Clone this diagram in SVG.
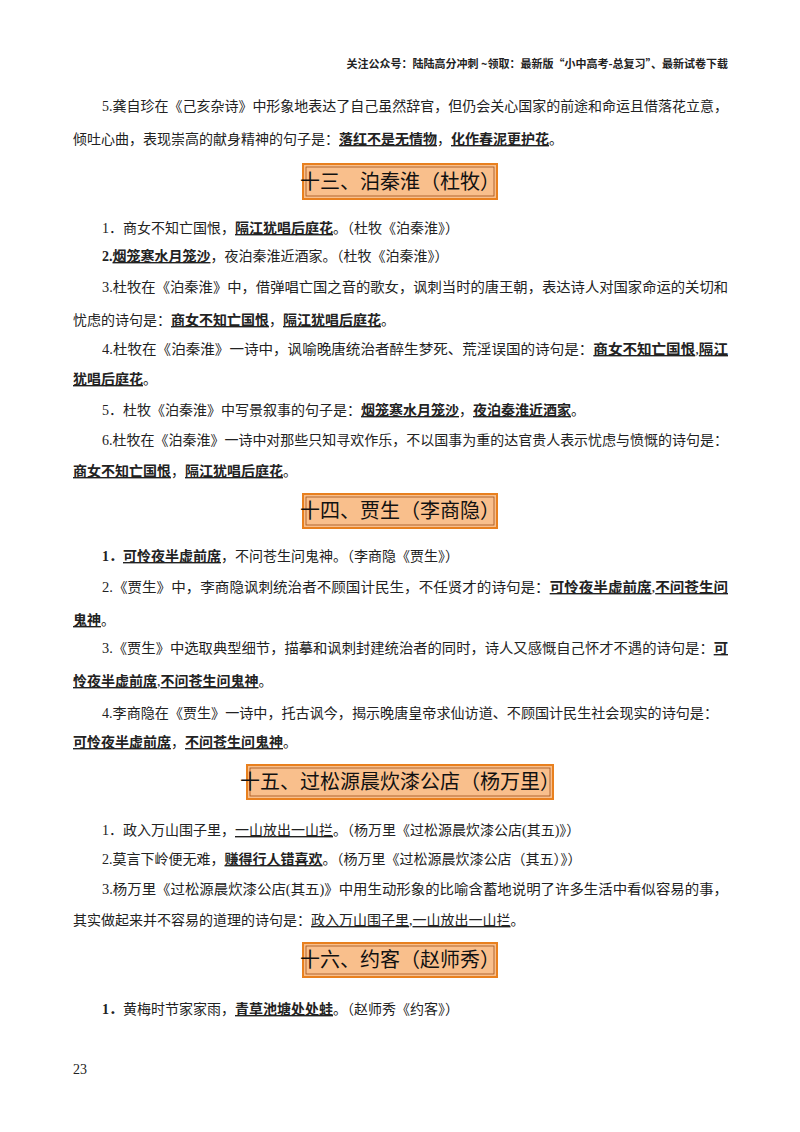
<svg xmlns="http://www.w3.org/2000/svg" width="800" height="1132" viewBox="0 0 800 1132">
<style>
text{font-family:"Liberation Serif","Noto Sans CJK SC",serif;font-size:14px;fill:#222}
.b{font-weight:bold;text-decoration:underline}
.u{text-decoration:underline}
.hd{font-family:"Noto Sans CJK SC",sans-serif;font-size:20px;fill:#111}
.hb{fill:#f9bf8c;stroke:#e8801f;stroke-width:2}
.hi{fill:none;stroke:#a0521a;stroke-width:0.8}
.top{font-family:"Noto Sans CJK SC",sans-serif;font-size:11px;font-weight:bold}
</style>
<rect width="800" height="1132" fill="#fff"/>
<text class="top" x="728" y="68" text-anchor="end">关注公众号：陆陆高分冲刺 ~领取：最新版“小中高考-总复习”、最新试卷下载</text>

<text x="102" y="111" textLength="626" lengthAdjust="spacingAndGlyphs">5.龚自珍在《己亥杂诗》中形象地表达了自己虽然辞官，但仍会关心国家的前途和命运且借落花立意，</text>
<text x="73" y="144">倾吐心曲，表现崇高的献身精神的句子是：<tspan class="b">落红不是无情物</tspan>，<tspan class="b">化作春泥更护花</tspan>。</text>

<g id="h13"><rect class="hb" x="303" y="164" width="194" height="35"/><rect class="hi" x="306" y="167" width="188" height="29"/><text class="hd" x="400" y="189" text-anchor="middle">十三、泊秦淮（杜牧）</text></g>

<text x="102" y="233">1．商女不知亡国恨，<tspan class="b">隔江犹唱后庭花</tspan>。（杜牧《泊秦淮》）</text>
<text x="102" y="261"><tspan font-weight="bold">2.</tspan><tspan class="b">烟笼寒水月笼沙</tspan>，夜泊秦淮近酒家。（杜牧《泊秦淮》）</text>
<text x="102" y="292" textLength="626" lengthAdjust="spacingAndGlyphs">3.杜牧在《泊秦淮》中，借弹唱亡国之音的歌女，讽刺当时的唐王朝，表达诗人对国家命运的关切和</text>
<text x="73" y="325">忧虑的诗句是：<tspan class="b">商女不知亡国恨</tspan>，<tspan class="b">隔江犹唱后庭花</tspan>。</text>
<text x="102" y="354" textLength="626" lengthAdjust="spacingAndGlyphs">4.杜牧在《泊秦淮》一诗中，讽喻晚唐统治者醉生梦死、荒淫误国的诗句是：<tspan class="b">商女不知亡国恨</tspan>,<tspan class="b">隔江</tspan></text>
<text x="73" y="384"><tspan class="b">犹唱后庭花</tspan>。</text>
<text x="102" y="415">5．杜牧《泊秦淮》中写景叙事的句子是：<tspan class="b">烟笼寒水月笼沙</tspan>，<tspan class="b">夜泊秦淮近酒家</tspan>。</text>
<text x="102" y="445" textLength="626" lengthAdjust="spacingAndGlyphs">6.杜牧在《泊秦淮》一诗中对那些只知寻欢作乐，不以国事为重的达官贵人表示忧虑与愤慨的诗句是：</text>
<text x="73" y="476"><tspan class="b">商女不知亡国恨</tspan>，<tspan class="b">隔江犹唱后庭花</tspan>。</text>

<g id="h14"><rect class="hb" x="303" y="494" width="194" height="34"/><rect class="hi" x="306" y="497" width="188" height="28"/><text class="hd" x="400" y="518" text-anchor="middle">十四、贾生（李商隐）</text></g>

<text x="102" y="561"><tspan font-weight="bold">1．</tspan><tspan class="b">可怜夜半虚前席</tspan>，不问苍生问鬼神。（李商隐《贾生》）</text>
<text x="102" y="592" textLength="626" lengthAdjust="spacingAndGlyphs">2.《贾生》中，李商隐讽刺统治者不顾国计民生，不任贤才的诗句是：<tspan class="b">可怜夜半虚前席</tspan>,<tspan class="b">不问苍生问</tspan></text>
<text x="73" y="625"><tspan class="b">鬼神</tspan>。</text>
<text x="102" y="653" textLength="626" lengthAdjust="spacingAndGlyphs">3.《贾生》中选取典型细节，描摹和讽刺封建统治者的同时，诗人又感慨自己怀才不遇的诗句是：<tspan class="b">可</tspan></text>
<text x="73" y="686"><tspan class="b">怜夜半虚前席</tspan>,<tspan class="b">不问苍生问鬼神</tspan>。</text>
<text x="102" y="718" textLength="616" lengthAdjust="spacingAndGlyphs">4.李商隐在《贾生》一诗中，托古讽今，揭示晚唐皇帝求仙访道、不顾国计民生社会现实的诗句是：</text>
<text x="73" y="747"><tspan class="b">可怜夜半虚前席</tspan>，<tspan class="b">不问苍生问鬼神</tspan>。</text>

<g id="h15"><rect class="hb" x="247" y="765" width="306" height="34"/><rect class="hi" x="250" y="768" width="300" height="28"/><text class="hd" x="400" y="789" text-anchor="middle">十五、过松源晨炊漆公店（杨万里）</text></g>

<text x="102" y="835">1．政入万山围子里，<tspan class="u">一山放出一山拦</tspan>。（杨万里《过松源晨炊漆公店(其五)》）</text>
<text x="102" y="864">2.莫言下岭便无难，<tspan class="b">赚得行人错喜欢</tspan>。（杨万里《过松源晨炊漆公店（其五）》）</text>
<text x="102" y="894" textLength="626" lengthAdjust="spacingAndGlyphs">3.杨万里《过松源晨炊漆公店(其五)》中用生动形象的比喻含蓄地说明了许多生活中看似容易的事，</text>
<text x="73" y="925">其实做起来并不容易的道理的诗句是：<tspan class="u">政入万山围子里</tspan>,<tspan class="u">一山放出一山拦</tspan>。</text>

<g id="h16"><rect class="hb" x="303" y="943" width="194" height="34"/><rect class="hi" x="306" y="946" width="188" height="28"/><text class="hd" x="400" y="967" text-anchor="middle">十六、约客（赵师秀）</text></g>

<text x="102" y="1014"><tspan font-weight="bold">1．</tspan>黄梅时节家家雨，<tspan class="b">青草池塘处处蛙</tspan>。（赵师秀《约客》）</text>

<text x="73" y="1074" style="font-size:14px">23</text>
</svg>
